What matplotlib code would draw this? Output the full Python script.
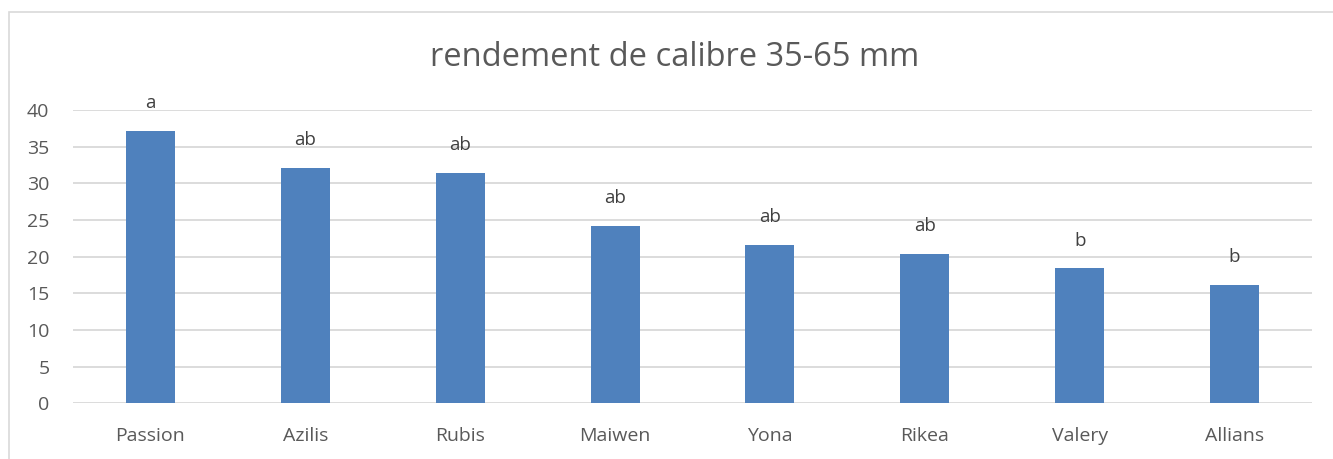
import matplotlib.pyplot as plt
from matplotlib.patches import Rectangle

# data
varieties = ['Passion', 'Azilis', 'Rubis', 'Maiwen', 'Yona', 'Rikea', 'Valery', 'Allians']
rendement = [37.1, 32.1, 31.4, 24.2, 21.6, 20.4, 18.4, 16.2]
groups = ['a', 'ab', 'ab', 'ab', 'ab', 'ab', 'b', 'b']
yticks = [0, 5, 10, 15, 20, 25, 30, 35, 40]

plt.rcParams['font.family'] = ['Open Sans', 'DejaVu Sans']
text_col = '#595959'
grid_col = '#D9D9D9'

fig = plt.figure(figsize=(13.33, 4.59), dpi=100)

# chart area frame (light gray, left/top visible)
fig.patches.append(Rectangle((9 / 1333, -0.1), 1.2, 1 - 12 / 459 + 0.1,
                             transform=fig.transFigure, fill=False,
                             edgecolor='#D9D9D9', linewidth=1.2))

ax = fig.add_axes([73 / 1333, 1 - 403.3 / 459, (1312 - 73) / 1333, (403.3 - 110) / 459])

x = range(len(varieties))
ax.bar(x, rendement, width=0.316, color='#4F81BD', zorder=3)

for xi, v, g in zip(x, rendement, groups):
    ax.annotate(g, (xi, v), xytext=(0, 20), textcoords='offset points',
                ha='center', va='center', fontsize=13.5, color='#404040')

ax.set_xlim(-0.5, len(varieties) - 0.5)
ax.set_ylim(0, 40)
ax.set_yticks(yticks)
ax.set_xticks(list(x))
ax.set_xticklabels(varieties)
ax.yaxis.grid(True, color=grid_col, linewidth=1.3, zorder=0)
ax.set_axisbelow(True)
for s in ax.spines.values():
    s.set_visible(False)
ax.tick_params(length=0, labelsize=14, colors=text_col)
ax.tick_params(axis='x', pad=17)
ax.tick_params(axis='y', pad=17)

fig.text(675 / 1333, 1 - 57 / 459, 'rendement de calibre 35-65 mm',
         ha='center', va='center', fontsize=23.5, color=text_col)

fig.savefig('out.png', dpi=100)
